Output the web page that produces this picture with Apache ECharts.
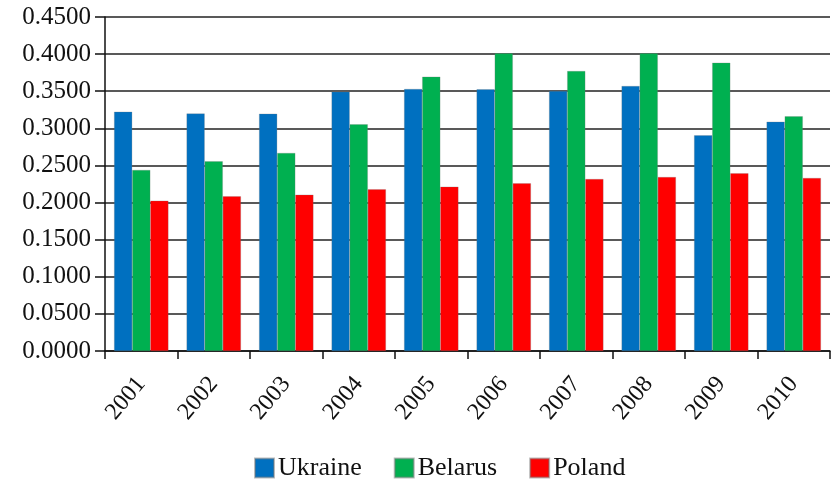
<!DOCTYPE html>
<html><head><meta charset="utf-8">
<script src="https://cdn.jsdelivr.net/npm/echarts@6/dist/echarts.min.js"></script>
<style>html,body{margin:0;padding:0;background:#fff}#c{width:834px;height:480px}</style>
</head><body><div id="c"></div>
<script>
var years = ['2001','2002','2003','2004','2005','2006','2007','2008','2009','2010'];
var ukraine = [0.3224,0.3200,0.3197,0.3494,0.3530,0.3526,0.3503,0.3570,0.2906,0.3089];
var belarus = [0.2439,0.2556,0.2668,0.3054,0.3696,0.4010,0.3772,0.4010,0.3884,0.3162];
var poland  = [0.2025,0.2084,0.2106,0.2178,0.2214,0.2259,0.2317,0.2344,0.2394,0.2331];
var yTicks = {min:0, max:0.45, interval:0.05};

var font = 'Liberation Serif';
var chart = echarts.init(document.getElementById('c'));
var bar = function(name, data, color){
  return {name:name, type:'bar', data:data, barGap:'0%', barCategoryGap:'25%',
    itemStyle:{color:color, borderColor:'rgba(120,120,120,0.5)', borderWidth:0.5}};
};
chart.setOption({
  animation:false,
  grid:{left:105, right:4, top:17, bottom:129, containLabel:false},
  legend:{top:455, left:254, padding:0, itemWidth:19, itemHeight:19, itemGap:32,
    icon:'rect',
    textStyle:{fontFamily:font, fontSize:26, color:'#111', padding:[0,0,0,-1]},
    data:['Ukraine','Belarus','Poland']},
  xAxis:{type:'category', data:years,
    axisLine:{lineStyle:{color:'#111', width:1.5}},
    axisTick:{show:true, length:8, lineStyle:{color:'#111', width:1.5}},
    axisLabel:{rotate:50, fontFamily:font, fontSize:24, color:'#111', margin:29}},
  yAxis:{type:'value', min:yTicks.min, max:yTicks.max, interval:yTicks.interval,
    axisLine:{show:true, lineStyle:{color:'#111', width:1.5}},
    axisTick:{show:true, length:10, lineStyle:{color:'#111', width:1.5}},
    splitLine:{lineStyle:{color:'#222', width:1.5}},
    axisLabel:{fontFamily:font, fontSize:25, color:'#111', margin:14,
      formatter:function(v){return v.toFixed(4);}}},
  series:[bar('Ukraine',ukraine,'#0070C0'), bar('Belarus',belarus,'#00B050'), bar('Poland',poland,'#FF0000')]
});
</script></body></html>
